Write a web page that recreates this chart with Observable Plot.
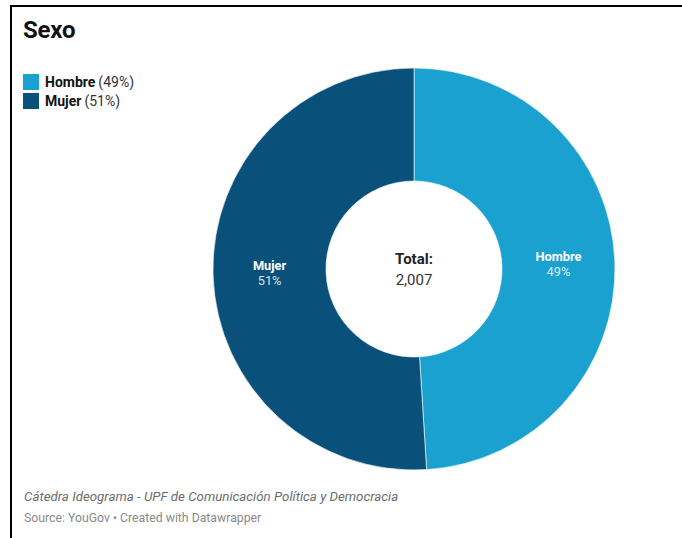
<!DOCTYPE html>
<html>
<head>
<meta charset="utf-8">
<script src="https://cdn.jsdelivr.net/npm/d3@7"></script>
<script src="https://cdn.jsdelivr.net/npm/@observablehq/plot@0.6"></script>
<style>
  html, body { margin: 0; padding: 0; background: #fff; }
  body { width: 682px; height: 538px; position: relative; overflow: hidden; font-family: Roboto, "Noto Sans", sans-serif; }
  #frame { position: absolute; left: 10px; top: 5px; width: 700px; height: 600px; border-left: 2px solid #000; border-top: 2px solid #000; box-sizing: border-box; }
  #chart { position: absolute; left: 0; top: 0; }
  #title { position: absolute; left: 23px; top: 16px; font-size: 24px; font-weight: 700; color: #111; letter-spacing: -0.2px; }
  #legend { position: absolute; left: 23px; top: 72px; font-size: 14px; color: #333; }
  .li { display: flex; align-items: center; height: 19px; }
  .sw { width: 16px; height: 16px; margin-right: 6px; }
  .li b { color: #111; margin-right: 3px; }
  #note { position: absolute; left: 24px; top: 489px; font-size: 13.3px; font-style: italic; color: #6d6d6d; }
  #source { position: absolute; left: 24px; top: 511px; font-size: 12.25px; color: #8a8a8a; }
</style>
</head>
<body>
<div id="frame"></div>
<div id="chart"></div>
<div id="title"></div>
<div id="legend"></div>
<div id="note"></div>
<div id="source"></div>
<script>
const title = "Sexo";
const categories = ["Hombre", "Mujer"];
const values = [49, 51];
const colors = ["#1ba1cf", "#09507a"];
const totalLabel = "Total:";
const totalValue = "2,007";
const note = "Cátedra Ideograma - UPF de Comunicación Política y Democracia";
const source = "Source: YouGov • Created with Datawrapper";

const data = categories.map((c, i) => ({category: c, value: values[i]}));

document.getElementById("title").textContent = title;
const legend = document.getElementById("legend");
data.forEach((d, i) => {
  const row = document.createElement("div");
  row.className = "li";
  row.innerHTML = `<span class="sw" style="background:${colors[i]}"></span><b>${d.category}</b>(${d.value}%)`;
  legend.appendChild(row);
});
document.getElementById("note").textContent = note;
document.getElementById("source").textContent = source;

const W = 682, H = 480;
const cx = 414, cy = 269, rOuter = 201, rInner = 88;

const donut = (index, scales, vals, dims) => {
  const g = d3.create("svg:g");
  const pie = d3.pie().sort(null).value(d => d.value)(data);
  const arc = d3.arc().innerRadius(rInner).outerRadius(rOuter);
  const root = g.append("g").attr("transform", `translate(${cx},${cy})`);
  root.selectAll("path").data(pie).join("path")
    .attr("d", arc)
    .attr("fill", d => scales.color(d.data.category))
    .attr("stroke", "rgba(255,255,255,0.6)")
    .attr("stroke-width", 1);
  const lab = root.selectAll("g.lab").data(pie).join("g")
    .attr("transform", d => { const [x, y] = arc.centroid(d); return `translate(${x},${y})`; })
    .attr("text-anchor", "middle")
    .attr("font-family", "Roboto, sans-serif")
    .attr("font-size", 12.8)
    .attr("fill", "#fff");
  lab.append("text").attr("dy", -3.5).attr("font-weight", 700).text(d => d.data.category);
  lab.append("text").attr("dy", 11.5).attr("fill-opacity", 0.85).text(d => d.data.value + "%");
  const c = root.append("g").attr("text-anchor", "middle").attr("font-family", "Roboto, sans-serif").attr("font-size", 15).attr("fill", "#222");
  c.append("text").attr("y", -5).attr("font-weight", 700).text(totalLabel);
  c.append("text").attr("y", 16).attr("fill", "#333").text(totalValue);
  return g.node();
};

const plot = Plot.plot({
  width: W,
  height: H,
  margin: 0,
  style: {background: "transparent", overflow: "visible"},
  color: {domain: categories, range: colors},
  marks: [donut]
});
document.getElementById("chart").appendChild(plot);
</script>
</body>
</html>
